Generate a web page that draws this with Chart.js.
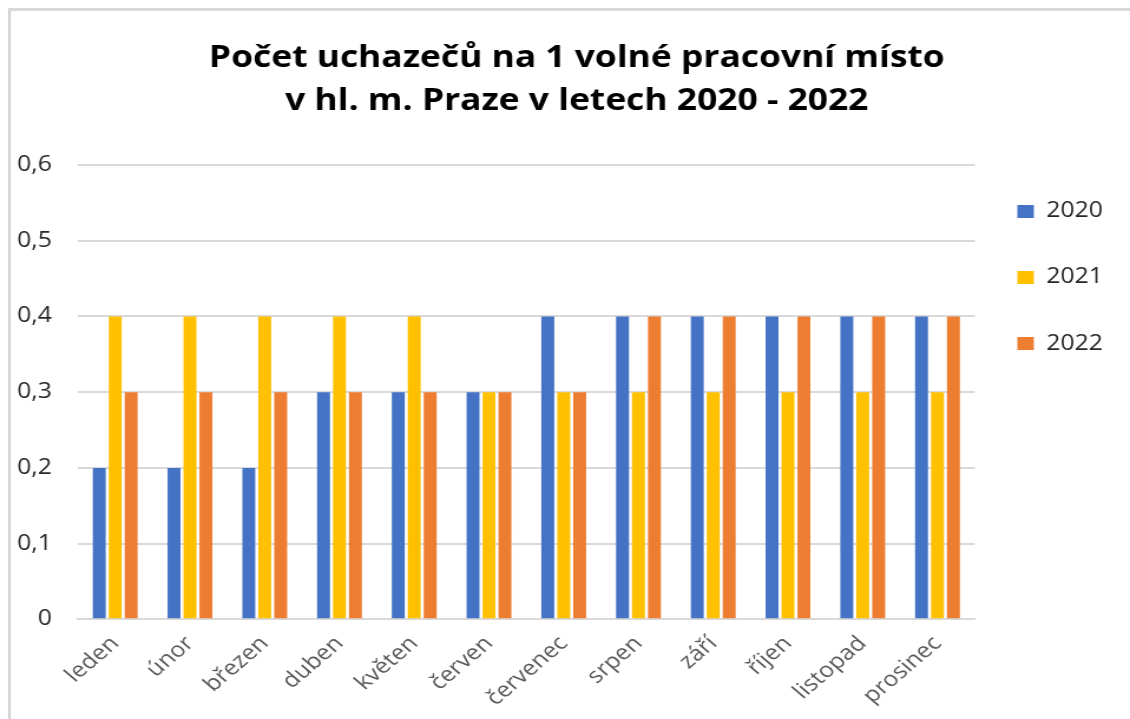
<!DOCTYPE html>
<html>
<head>
<meta charset="utf-8">
<script src="https://cdn.jsdelivr.net/npm/chart.js@4"></script>
<style>
    body { margin: 0; background: #fff; }
    #wrap { position: relative; width: 1130px; height: 719px; overflow: hidden; }
    /* the source picture is stretched sideways, so the canvas is too */
    #chart { width: 1130px; height: 719px; }
    #frame { position: absolute; left: 8px; top: 8px; right: 0; bottom: 0;
             border-left: 3px solid #d9d9d9; border-top: 3px solid #d9d9d9; pointer-events: none; }
</style>
</head>
<body>
<div id="wrap">
    <canvas id="chart" width="958" height="719" style="width:1130px;height:719px"></canvas>
    <div id="frame"></div>
</div>
<script>
const months = ['leden', 'únor', 'březen', 'duben', 'květen', 'červen', 'červenec', 'srpen', 'září', 'říjen', 'listopad', 'prosinec'];
const years = ['2020', '2021', '2022'];
const values2020 = [0.2, 0.2, 0.2, 0.3, 0.3, 0.3, 0.4, 0.4, 0.4, 0.4, 0.4, 0.4];
const values2021 = [0.4, 0.4, 0.4, 0.4, 0.4, 0.3, 0.3, 0.3, 0.3, 0.3, 0.3, 0.3];
const values2022 = [0.3, 0.3, 0.3, 0.3, 0.3, 0.3, 0.3, 0.4, 0.4, 0.4, 0.4, 0.4];
const colors = ['#4472C4', '#FFC000', '#ED7D31'];

const font = '"Open Sans", "Liberation Sans", sans-serif';

// y labels are mirrored (so they are not clipped to the narrow axis box),
// padding pulls them back left of the plot, right aligned
const measure = document.createElement('canvas').getContext('2d');
measure.font = '21px ' + font;
const tickWidth = measure.measureText('0,6').width;

const ctx = document.querySelector('#chart').getContext('2d');
const chart = new Chart(ctx, {
    type: 'bar',
    data: {
        labels: months,
        datasets: [values2020, values2021, values2022].map((vals, i) => ({
            label: years[i],
            data: vals,
            backgroundColor: colors[i],
            borderWidth: 0,
            categoryPercentage: 0.64,
            barPercentage: 0.81
        }))
    },
    options: {
        responsive: false,
        animation: false,
        layout: {
            padding: { left: 33, right: 13, top: 10, bottom: 4 }
        },
        plugins: {
            title: {
                display: true,
                text: ['Počet uchazečů na 1 volné pracovní místo', 'v hl. m. Praze v letech 2020 - 2022'],
                color: '#000',
                font: { family: font, size: 30, weight: 'bold', lineHeight: 1.433 },
                padding: { top: 27, bottom: 42 }
            },
            legend: {
                position: 'right',
                align: 'start',
                fullSize: false,
                labels: {
                    boxWidth: 14,
                    boxHeight: 13,
                    padding: 36,
                    color: '#262626',
                    // lineHeight sets the row step (text given as a one-line array)
                    font: { family: font, size: 21, lineHeight: 1.43 },
                    generateLabels: c => Chart.defaults.plugins.legend.labels.generateLabels(c)
                        .map(item => ({ ...item, text: [item.text] }))
                }
            },
            tooltip: { enabled: false }
        },
        scales: {
            x: {
                // rotated month names may hang out to the left, like in the original
                afterFit: axis => { axis.paddingLeft = 0; axis.paddingRight = 0; },
                grid: { display: false },
                border: { display: true, color: '#d9d9d9', width: 2 },
                ticks: {
                    color: '#595959',
                    font: { family: font, size: 21 },
                    minRotation: 45,
                    maxRotation: 45,
                    autoSkip: false,
                    padding: 4
                }
            },
            y: {
                min: 0,
                max: 0.6,
                afterFit: axis => { axis.width = 33; },
                grid: { color: '#d9d9d9', lineWidth: 2, drawTicks: false },
                border: { display: false },
                ticks: {
                    stepSize: 0.1,
                    mirror: true,
                    crossAlign: 'far',
                    padding: -22 - tickWidth,
                    color: '#262626',
                    font: { family: font, size: 21 },
                    callback: v => Number(v.toFixed(1)).toString().replace('.', ',')
                }
            }
        }
    }
});
</script>
</body>
</html>
